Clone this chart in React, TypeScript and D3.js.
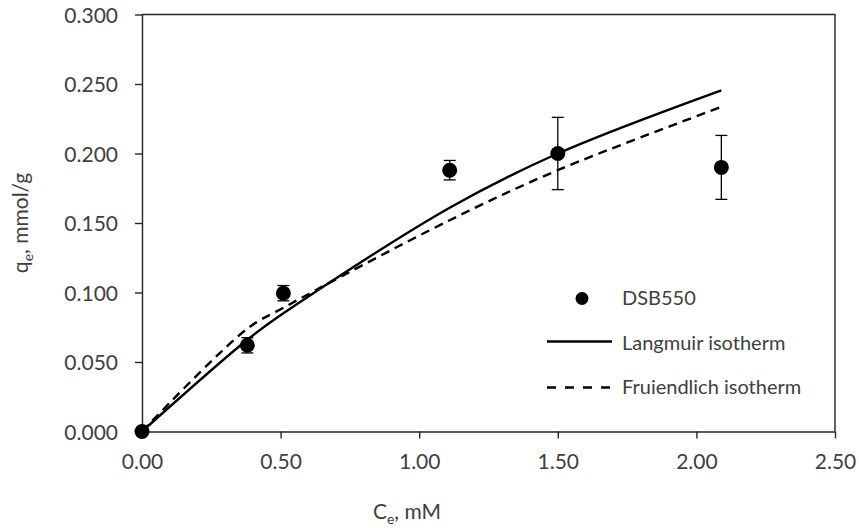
import React, { useEffect, useRef } from 'react'
import * as d3 from 'd3'

// measured data (DSB550)
const ceValues = [0, 0.38, 0.51, 1.11, 1.5, 2.09]
const qeValues = [0, 0.062, 0.0995, 0.188, 0.2, 0.19]
const qeErrors = [0, 0.0055, 0.0055, 0.007, 0.026, 0.023]

const langmuirValues = [0, 0.066, 0.085, 0.161, 0.2, 0.2455]
const freundlichValues = [0, 0.074, 0.089, 0.152, 0.188, 0.2335]

const xTicks = [0, 0.5, 1, 1.5, 2, 2.5]
const yTicks = [0, 0.05, 0.1, 0.15, 0.2, 0.25, 0.3]

const legendLabels = ['DSB550', 'Langmuir isotherm', 'Fruiendlich isotherm']

const App = () => {
  const ref = useRef<SVGSVGElement>(null)
  const width = 859
  const height = 528
  const margin = { top: 14.5, right: 24, bottom: 96.5, left: 142 }

  useEffect(() => {
    const svg = d3.select(ref.current)
    svg.selectAll('*').remove()

    const font = 'Lato, "Open Sans", sans-serif'
    const textColor = '#404040'
    const axisColor = '#262626'

    const x = d3.scaleLinear().domain([0, 2.5]).range([margin.left, width - margin.right])
    const y = d3.scaleLinear().domain([0, 0.3]).range([height - margin.bottom, margin.top])

    // plot frame (top and right)
    svg.append('path')
      .attr('d', `M${x(0)},${y(0.3)}H${x(2.5)}V${y(0)}`)
      .attr('fill', 'none')
      .attr('stroke', axisColor)
      .attr('stroke-width', 1.4)

    const xAxis = svg.append('g')
      .attr('transform', `translate(0,${y(0)})`)
      .call(d3.axisBottom(x).tickValues(xTicks).tickSize(7).tickSizeOuter(0).tickFormat(d3.format('.2f')))
    const yAxis = svg.append('g')
      .attr('transform', `translate(${x(0)},0)`)
      .call(d3.axisLeft(y).tickValues(yTicks).tickSize(7).tickSizeOuter(0).tickFormat(d3.format('.3f')))

    for (const ax of [xAxis, yAxis]) {
      ax.select('.domain').attr('stroke', axisColor).attr('stroke-width', 1.4)
      ax.selectAll('.tick line').attr('stroke', axisColor).attr('stroke-width', 1.4)
      ax.selectAll('.tick text')
        .attr('fill', textColor)
        .style('font-family', font)
        .style('font-size', '21px')
    }
    xAxis.selectAll('.tick text').attr('dy', null).attr('y', 37)
    yAxis.selectAll('.tick text').attr('x', -24).attr('dy', '0.36em')

    // model lines
    const line = d3.line<number>()
      .x((_, i) => x(ceValues[i]))
      .y(d => y(d))
      .curve(d3.curveCatmullRom.alpha(0.5))

    svg.append('path')
      .attr('d', line(freundlichValues))
      .attr('fill', 'none')
      .attr('stroke', '#000')
      .attr('stroke-width', 2.4)
      .attr('stroke-dasharray', '9,6')

    svg.append('path')
      .attr('d', line(langmuirValues))
      .attr('fill', 'none')
      .attr('stroke', '#000')
      .attr('stroke-width', 2.4)

    // error bars
    const bars = svg.append('g')
      .selectAll('g')
      .data(ceValues.map((c, i) => ({ c, q: qeValues[i], e: qeErrors[i] })).filter(d => d.e > 0))
      .join('g')
      .attr('stroke', '#000')
      .attr('stroke-width', 1.3)
    bars.append('line')
      .attr('x1', d => x(d.c)).attr('x2', d => x(d.c))
      .attr('y1', d => y(d.q - d.e)).attr('y2', d => y(d.q + d.e))
    bars.append('line')
      .attr('x1', d => x(d.c) - 6).attr('x2', d => x(d.c) + 6)
      .attr('y1', d => y(d.q + d.e)).attr('y2', d => y(d.q + d.e))
    bars.append('line')
      .attr('x1', d => x(d.c) - 6).attr('x2', d => x(d.c) + 6)
      .attr('y1', d => y(d.q - d.e)).attr('y2', d => y(d.q - d.e))

    // markers
    svg.append('g')
      .selectAll('circle')
      .data(ceValues)
      .join('circle')
      .attr('cx', d => x(d))
      .attr('cy', (_, i) => y(qeValues[i]))
      .attr('r', 7.5)
      .attr('fill', '#000')

    // legend
    const legend = svg.append('g')
      .style('font-family', font)
      .style('font-size', '20px')
      .attr('fill', textColor)
    legend.append('circle').attr('cx', 582).attr('cy', 298.5).attr('r', 6.5).attr('fill', '#000')
    legend.append('line').attr('x1', 547).attr('x2', 612).attr('y1', 341.5).attr('y2', 341.5)
      .attr('stroke', '#000').attr('stroke-width', 2.4)
    legend.append('line').attr('x1', 547).attr('x2', 612).attr('y1', 387.5).attr('y2', 387.5)
      .attr('stroke', '#000').attr('stroke-width', 2.4).attr('stroke-dasharray', '9,9')
    legend.selectAll('text')
      .data(legendLabels)
      .join('text')
      .attr('x', 622)
      .attr('y', (_, i) => 305 + i * 44.5)
      .text(d => d)

    // axis titles
    const yTitle = svg.append('text')
      .attr('transform', `translate(28,${(y(0) + y(0.3)) / 2}) rotate(-90)`)
      .attr('text-anchor', 'middle')
      .attr('fill', textColor)
      .style('font-family', font)
      .style('font-size', '21px')
    yTitle.append('tspan').text('q')
    yTitle.append('tspan').text('e').attr('dy', 5).style('font-size', '14px')
    yTitle.append('tspan').text(', mmol/g').attr('dy', -5)

    const xTitle = svg.append('text')
      .attr('x', 407)
      .attr('y', 519)
      .attr('text-anchor', 'middle')
      .attr('fill', textColor)
      .style('font-family', font)
      .style('font-size', '21px')
    xTitle.append('tspan').text('C')
    xTitle.append('tspan').text('e').attr('dy', 5).style('font-size', '14px')
    xTitle.append('tspan').text(', mM').attr('dy', -5)
  }, [])

  return (
    <svg ref={ref} width={width} height={height}
      style={{ position: 'absolute', left: 0, top: 0, background: '#fff' }} />
  )
}

export default App
